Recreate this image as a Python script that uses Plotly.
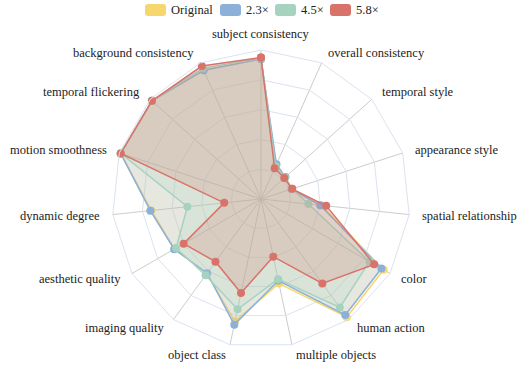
import math
import plotly.graph_objects as go

# Radar chart: per-dimension scores for the original model and three speed-up ratios
categories = [
    "subject consistency", "overall consistency", "temporal style", "appearance style",
    "spatial relationship", "color", "human action", "multiple objects", "object class",
    "imaging quality", "aesthetic quality", "dynamic degree", "motion smoothness",
    "temporal flickering", "background consistency",
]

series_names = ["Original", "2.3×", "4.5×", "5.8×"]

original = [0.94, 0.25, 0.22, 0.22, 0.41, 0.95, 0.98, 0.58, 0.84, 0.62, 0.67, 0.74, 0.99, 0.985, 0.946]
ratio_2_3 = [0.94, 0.255, 0.22, 0.215, 0.40, 0.933, 0.962, 0.56, 0.862, 0.615, 0.673, 0.747, 0.99, 0.985, 0.946]
ratio_4_5 = [0.945, 0.24, 0.215, 0.22, 0.32, 0.84, 0.90, 0.55, 0.757, 0.633, 0.658, 0.497, 0.99, 0.985, 0.96]
ratio_5_8 = [0.95, 0.225, 0.21, 0.22, 0.44, 0.877, 0.70, 0.396, 0.645, 0.52, 0.60, 0.248, 0.99, 0.985, 0.977]

colors = ["#f5d76e", "#8db0d9", "#a6d3c0", "#d9736a"]
fills = ["rgba(245,215,110,0.2)", "rgba(141,176,217,0.2)", "rgba(166,211,192,0.2)", "rgba(217,115,106,0.2)"]

W, H = 517, 365
FONT = "Liberation Serif"

fig = go.Figure()
for name, vals, col, fc in zip(series_names, [original, ratio_2_3, ratio_4_5, ratio_5_8], colors, fills):
    fig.add_trace(go.Scatterpolar(
        r=vals + vals[:1],
        theta=categories + categories[:1],
        name=name,
        mode="lines+markers",
        fill="toself",
        fillcolor=fc,
        line=dict(color=col, width=1.5),
        marker=dict(color=col, size=8),
        showlegend=False,
    ))

# polar area: centre (261, 199) px, radius 149 px
cx, cy, R = 261, 199, 149
fig.update_layout(
    width=W, height=H,
    margin=dict(l=0, r=0, t=0, b=0),
    paper_bgcolor="white",
    plot_bgcolor="white",
    font=dict(family=FONT, size=12.5, color="#222"),
    polar=dict(
        domain=dict(x=[(cx - R) / W, (cx + R) / W], y=[1 - (cy + R) / H, 1 - (cy - R) / H]),
        bgcolor="white",
        gridshape="linear",
        angularaxis=dict(
            type="category",
            categoryarray=categories,
            direction="clockwise",
            rotation=90,
            showline=True,
            linecolor="#dbe3ef",
            linewidth=1,
            gridcolor="#cccccc",
            gridwidth=1,
            ticks="",
            showticklabels=False,
        ),
        radialaxis=dict(
            range=[0, 1],
            tickvals=[0.2, 0.4, 0.6, 0.8],
            showticklabels=False,
            showline=False,
            ticks="",
            gridcolor="#dbe3ef",
            gridwidth=1,
        ),
    ),
)

# indicator names, set a fixed gap beyond the outer polygon
GAP = 10.5
n = len(categories)
for i, name in enumerate(categories):
    a = 2 * math.pi * i / n
    dx, dy = math.sin(a), -math.cos(a)
    if abs(dx) < 1e-6:
        x = cx
        y = cy + (R + 7) * dy
        xanchor = "center"
        yanchor = "bottom" if dy < 0 else "top"
    else:
        x = cx + (R + GAP) * dx
        y = cy + (R + GAP) * dy
        xanchor = "left" if dx > 0 else "right"
        yanchor = "middle"
    fig.add_annotation(x=x / W, y=1 - y / H, xref="paper", yref="paper", text=name,
                       showarrow=False, xanchor=xanchor, yanchor=yanchor,
                       font=dict(family=FONT, size=12.5, color="#222"))

# legend: rounded swatches with labels along the top
def rounded_rect(x0, y0, w, h, rad):
    def px(x): return x / W
    def py(y): return 1 - y / H
    x1, y1 = x0 + w, y0 + h
    return (f"M {px(x0 + rad)} {py(y0)} L {px(x1 - rad)} {py(y0)} "
            f"Q {px(x1)} {py(y0)} {px(x1)} {py(y0 + rad)} L {px(x1)} {py(y1 - rad)} "
            f"Q {px(x1)} {py(y1)} {px(x1 - rad)} {py(y1)} L {px(x0 + rad)} {py(y1)} "
            f"Q {px(x0)} {py(y1)} {px(x0)} {py(y1 - rad)} L {px(x0)} {py(y0 + rad)} "
            f"Q {px(x0)} {py(y0)} {px(x0 + rad)} {py(y0)} Z")

legend_x = [145, 220, 275, 330]
for name, col, lx in zip(series_names, colors, legend_x):
    fig.add_shape(type="path", xref="paper", yref="paper",
                  path=rounded_rect(lx, 4, 21, 12, 3),
                  fillcolor=col, line=dict(width=0))
    fig.add_annotation(x=(lx + 23.5) / W, y=1 - 10 / H, xref="paper", yref="paper",
                       text=name, showarrow=False, xanchor="left", yanchor="middle",
                       font=dict(family=FONT, size=12.5, color="#222"))

fig.write_html("out.html")
